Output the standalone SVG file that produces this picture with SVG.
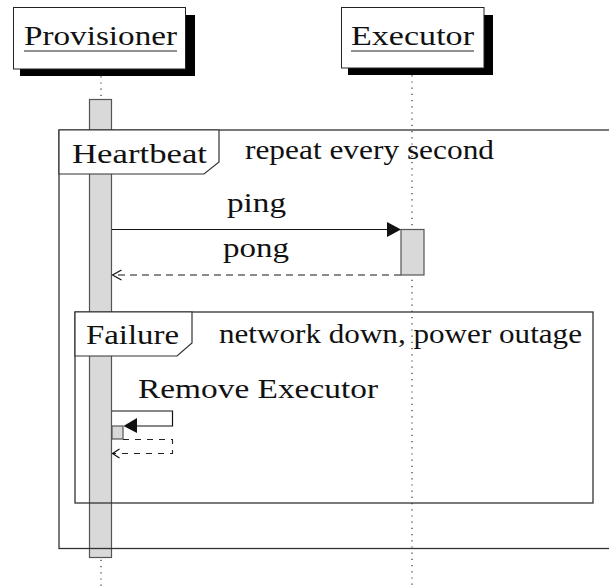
<svg xmlns="http://www.w3.org/2000/svg" width="609" height="588" viewBox="0 0 609 588">
<style>
text{font-family:'Liberation Serif','DejaVu Serif',serif;font-size:28px;fill:#111}
.box{fill:#fff;stroke:#222;stroke-width:1}
.shadow{fill:#000}
.life{stroke:#333;stroke-width:1.2;stroke-dasharray:1.2 5;fill:none}
.act{fill:#d9d9d9;stroke:#555;stroke-width:1.2}
.frame{fill:none;stroke:#333;stroke-width:1.3}
.flabel{fill:#fff;stroke:#333;stroke-width:1.2}
.msg{stroke:#111;stroke-width:1.2;fill:none}
.ret{stroke:#666;stroke-width:1.3;fill:none;stroke-dasharray:7 5}
.ret2{stroke:#222;stroke-width:1.1;fill:none;stroke-dasharray:6 6}
.ul{stroke:#222;stroke-width:1.2}
</style>
<rect width="609" height="588" fill="#fff"/>
<g id="lifelines">
<line class="life" x1="101" y1="70" x2="101" y2="588"/>
<line class="life" x1="412" y1="69" x2="412" y2="588"/>
</g>
<g id="provisioner">
<rect class="shadow" x="20" y="15" width="175" height="61"/>
<rect class="box" x="13.5" y="7.5" width="172" height="61.5"/>
<text x="24" y="45" textLength="153" lengthAdjust="spacingAndGlyphs">Provisioner</text>
<line class="ul" x1="24" y1="51" x2="177" y2="51"/>
</g>
<g id="executor">
<rect class="shadow" x="348" y="15" width="145" height="60"/>
<rect class="box" x="341.5" y="7.5" width="142.5" height="60.5"/>
<text x="351" y="45" textLength="123" lengthAdjust="spacingAndGlyphs">Executor</text>
<line class="ul" x1="351" y1="51" x2="474" y2="51"/>
</g>
<g id="activations">
<rect class="act" x="89.5" y="99.5" width="22" height="458"/>
<rect class="act" x="401" y="229.5" width="23" height="45.5"/>
<rect class="act" x="112" y="426" width="11" height="13"/>
</g>
<g id="heartbeat">
<rect class="frame" x="59" y="130" width="570" height="418.5"/>
<path class="flabel" d="M59,130 H219 V162 L204,174 H59 Z"/>
<text x="72" y="163" textLength="135" lengthAdjust="spacingAndGlyphs">Heartbeat</text>
<text x="245" y="159" textLength="249" lengthAdjust="spacingAndGlyphs">repeat every second</text>
</g>
<g id="failure">
<rect class="frame" x="75" y="312" width="518" height="191"/>
<path class="flabel" d="M75,312 H192 V343 L177,356 H75 Z"/>
<text x="86" y="344" textLength="93" lengthAdjust="spacingAndGlyphs">Failure</text>
<text x="219" y="343" textLength="363" lengthAdjust="spacingAndGlyphs">network down, power outage</text>
</g>
<g id="connectors">
<line class="msg" x1="112" y1="229.5" x2="388" y2="229.5"/>
<polygon points="401,229.5 387,222 387,237" fill="#111"/>
<text x="227" y="212" textLength="59" lengthAdjust="spacingAndGlyphs">ping</text>
<line class="ret" x1="401" y1="275" x2="113" y2="275"/>
<polyline class="msg" points="121.5,270 112.5,275 121.5,280" stroke="#444"/>
<text x="223" y="257" textLength="66" lengthAdjust="spacingAndGlyphs">pong</text>
<polyline class="msg" points="112,411 172.5,411 172.5,426 136,426"/>
<polygon points="123.5,426 137,418 137,433" fill="#111"/>
<text x="138" y="398" textLength="240" lengthAdjust="spacingAndGlyphs">Remove Executor</text>
<polyline class="ret2" points="123,439.5 172.5,439.5 172.5,453.5 113,453.5"/>
<polyline class="msg" points="119.5,449 112.5,453.5 119.5,458" stroke="#333" stroke-width="1"/>
</g>
</svg>
